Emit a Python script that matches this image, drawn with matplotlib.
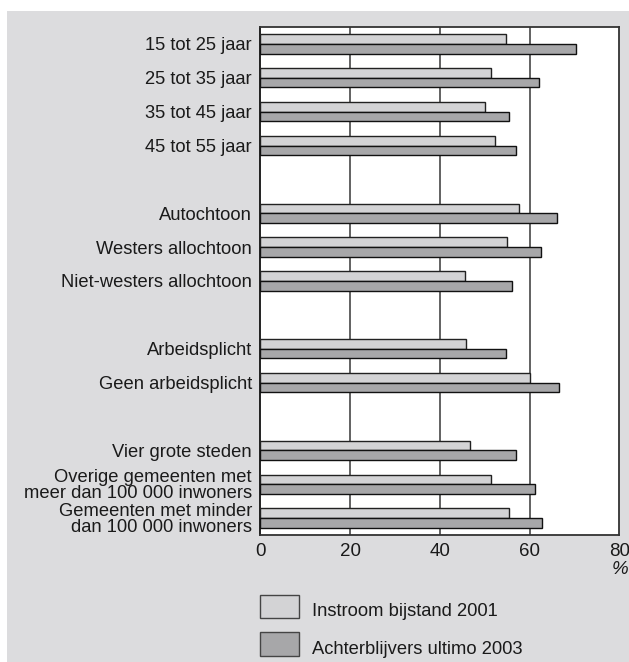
import matplotlib
matplotlib.use("Agg")
import matplotlib.pyplot as plt
from matplotlib.patches import Rectangle

plt.rcParams['font.family'] = ['Liberation Sans', 'DejaVu Sans']

categories = ["15 tot 25 jaar", "25 tot 35 jaar", "35 tot 45 jaar", "45 tot 55 jaar",
              None,
              "Autochtoon", "Westers allochtoon", "Niet-westers allochtoon",
              None,
              "Arbeidsplicht", "Geen arbeidsplicht",
              None,
              "Vier grote steden", "Overige gemeenten met\nmeer dan 100 000 inwoners",
              "Gemeenten met minder\ndan 100 000 inwoners"]
instroom = [54.7, 51.3, 50.1, 52.3, None, 57.7, 55.0, 45.6, None, 45.9, 60.0, None, 46.8, 51.3, 55.4]
achterblijvers = [70.3, 62.2, 55.4, 56.9, None, 66.2, 62.5, 56.1, None, 54.8, 66.6, None, 57.0, 61.3, 62.8]
series_names = ["Instroom bijstand 2001", "Achterblijvers ultimo 2003"]
xticks = [0, 20, 40, 60, 80]

W, H = 629, 662
fig = plt.figure(figsize=(W / 100, H / 100), dpi=100)
fig.patch.set_facecolor('white')
bg = '#dcdcde'
c_light = '#d3d3d5'
c_dark = '#a7a7a9'
fig.patches.append(Rectangle((7 / W, 0), 1 - 7 / W, 1 - 11 / H, transform=fig.transFigure,
                             facecolor=bg, edgecolor='none', zorder=-10))

ax = fig.add_axes([260.3 / W, 1 - 535 / H, (619.3 - 260.3) / W, (535 - 27) / H])
ax.set_facecolor('white')
bh = 0.285
pos = [i for i, c in enumerate(categories) if c is not None]
lab = [categories[i] for i in pos]
ax.barh([p - bh / 2 for p in pos], [instroom[i] for i in pos], height=bh,
        color=c_light, edgecolor='#222222', linewidth=1.0, zorder=3)
ax.barh([p + bh / 2 for p in pos], [achterblijvers[i] for i in pos], height=bh,
        color=c_dark, edgecolor='#111111', linewidth=1.0, zorder=3)
ax.set_ylim(len(categories) - 0.5, -0.5)
ax.set_xlim(0, 80)
ax.set_yticks(pos)
ax.set_yticklabels(lab, fontsize=13.2, color='#1a1a1a', linespacing=0.93)
ax.set_xticks(xticks)
ax.set_xticklabels([str(t) for t in xticks], fontsize=13.5, color='#1a1a1a')
ax.tick_params(axis='y', length=0, pad=6)
ax.tick_params(axis='x', length=0, pad=6)
for x in xticks[1:-1]:
    ax.axvline(x, color='#555555', lw=1.3, zorder=1)
for s in ax.spines.values():
    s.set_color('#333333')
    s.set_linewidth(1.3)
ax.spines['left'].set_color('#111111')

fig.text(620 / W, 1 - 570 / H, '%', fontsize=13.5, style='italic', ha='center', va='center', color='#1a1a1a')

# legend
for (y0, y1), name, col in zip([(595, 617.7), (632.3, 656)], series_names, [c_light, c_dark]):
    fig.patches.append(Rectangle((260 / W, 1 - y1 / H), 39 / W, (y1 - y0) / H, transform=fig.transFigure,
                                 facecolor=col, edgecolor='#444444', linewidth=1.0))
    fig.text(312 / W, 1 - ((y0 + y1) / 2 + 5) / H, name, fontsize=13.2, ha='left', va='center', color='#1a1a1a')

fig.savefig('out.png', dpi=100, facecolor=fig.get_facecolor())
